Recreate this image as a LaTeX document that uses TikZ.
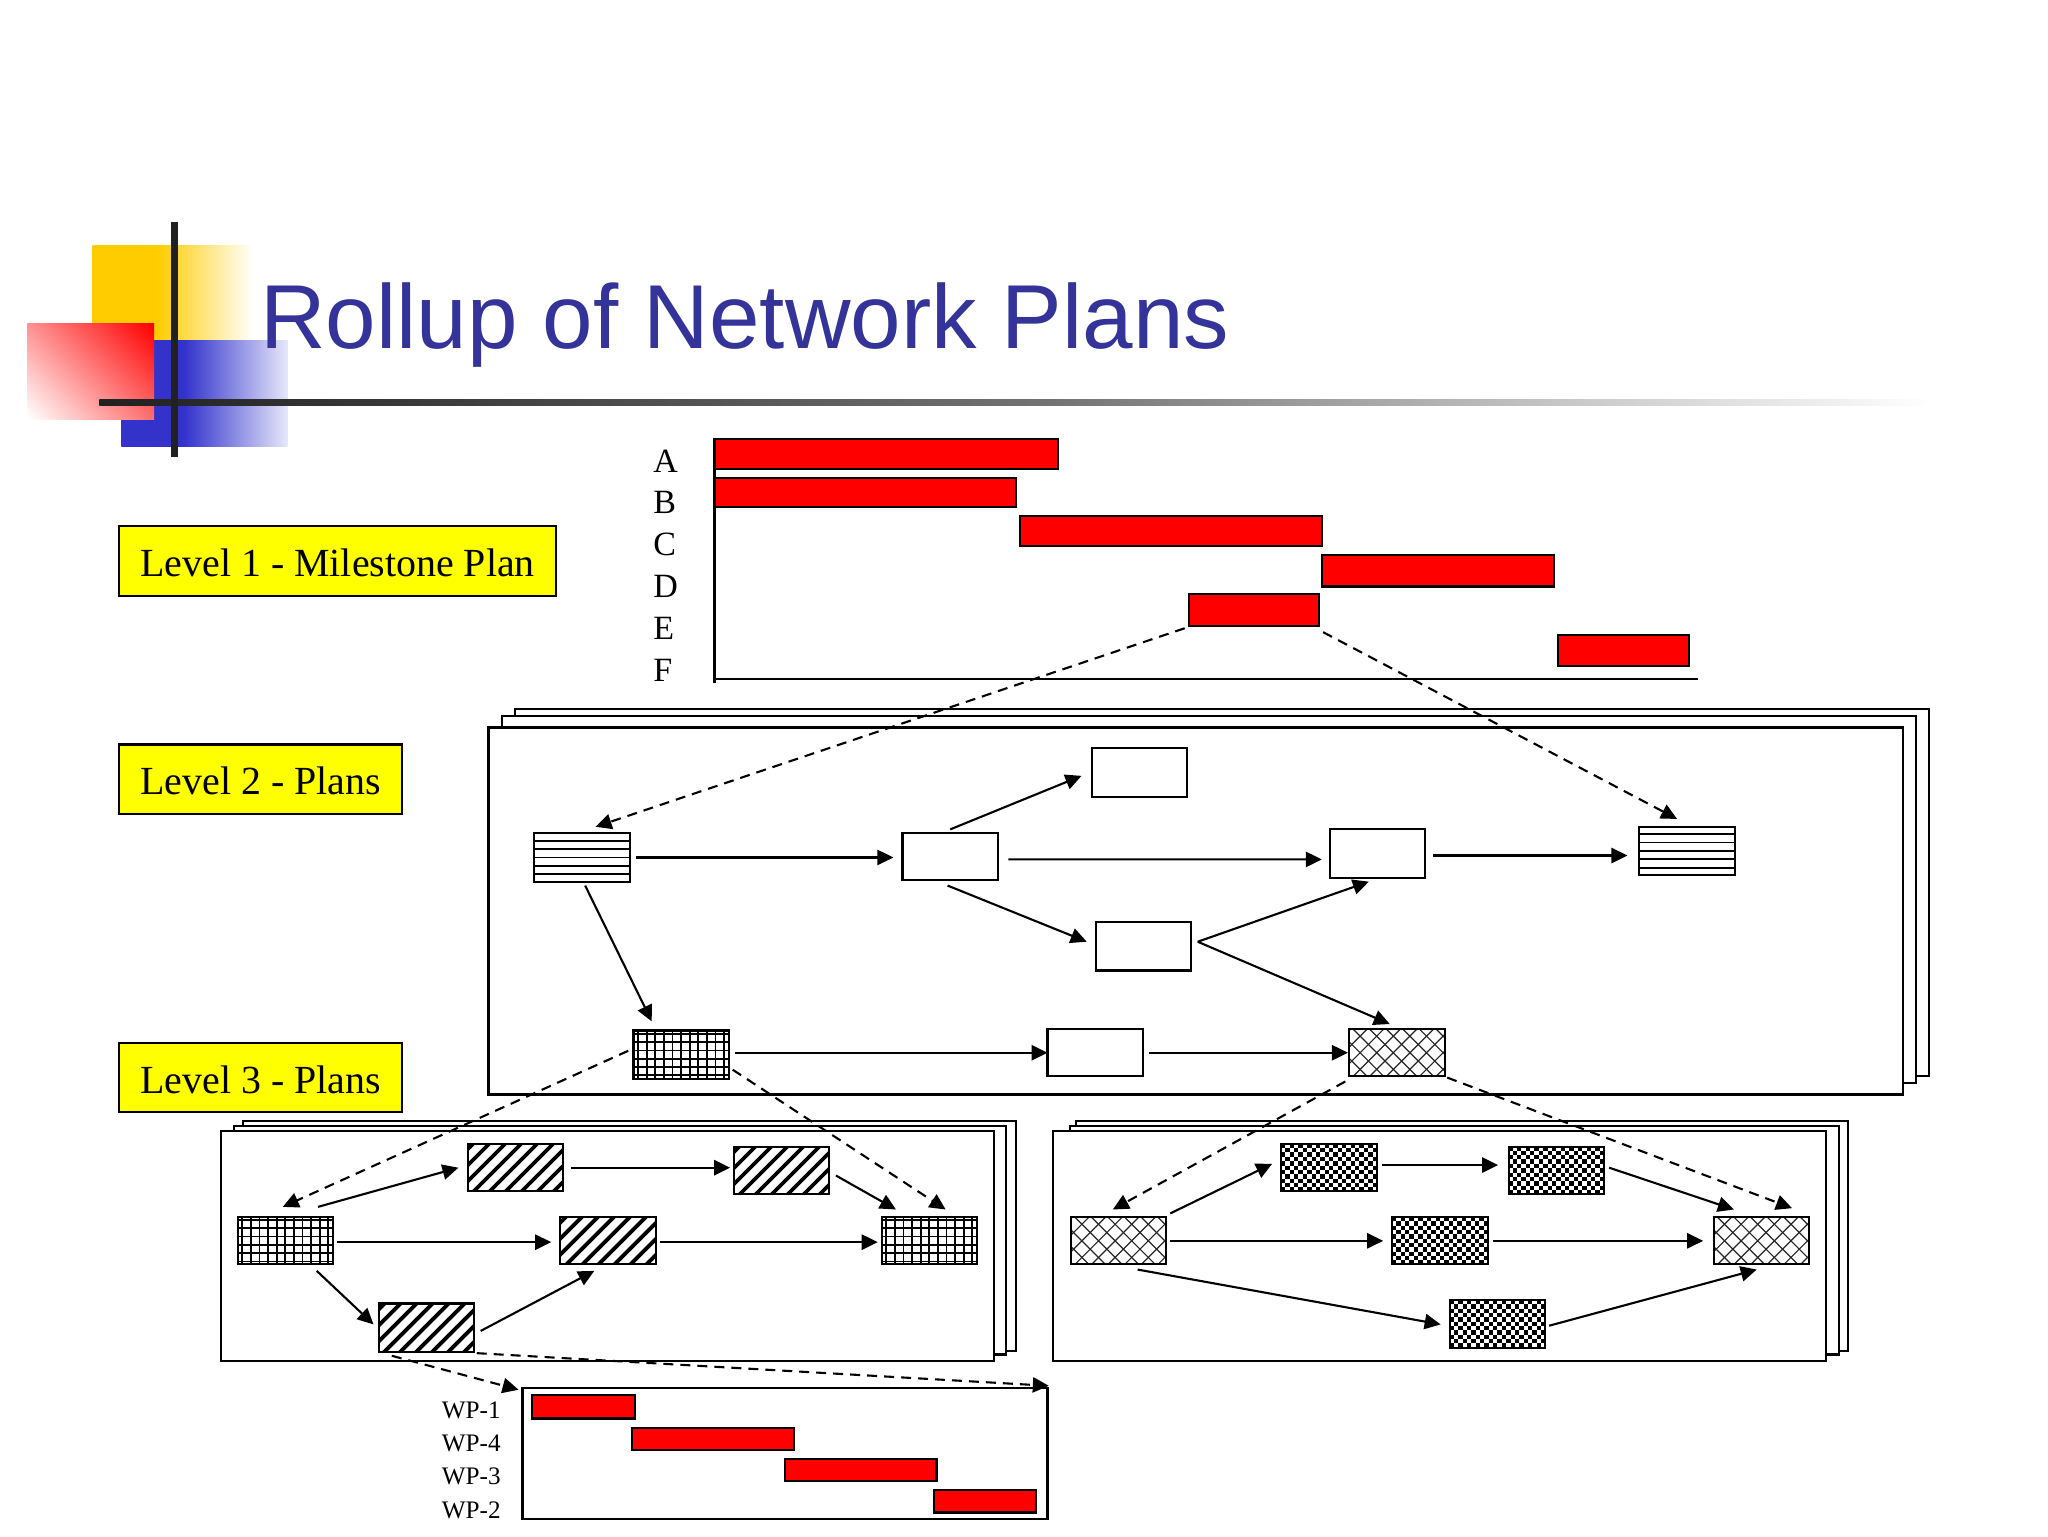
\documentclass[tikz,border=0pt]{standalone}
\usepackage{fontspec}
\setmainfont{Liberation Serif}
\newfontfamily\titlefont{Liberation Sans}
\usetikzlibrary{arrows.meta,calc}
\definecolor{titleblue}{HTML}{333399}
\definecolor{logoblue}{HTML}{3333CC}
\definecolor{logoyellow}{HTML}{FFCC00}
\definecolor{levelyellow}{HTML}{FFFF00}
\definecolor{barred}{HTML}{FF0000}
\definecolor{darkbar}{gray}{0.13}
\definecolor{barA}{gray}{0.22}
\definecolor{barB}{gray}{0.45}
\definecolor{barC}{gray}{0.78}
\pgfdeclarehorizontalshading{yellowfade}{100bp}{color(0bp)=(logoyellow); color(45bp)=(logoyellow); color(75bp)=(white); color(100bp)=(white)}
\pgfdeclarehorizontalshading{bluefade}{100bp}{color(0bp)=(logoblue); color(44bp)=(logoblue); color(75bp)=(logoblue!12!white); color(100bp)=(logoblue!12!white)}
\pgfdeclarehorizontalshading{barfade}{100bp}{color(0bp)=(darkbar); color(25bp)=(darkbar); color(33bp)=(barA); color(51bp)=(barB); color(65bp)=(barC); color(75bp)=(white); color(100bp)=(white)}
\pgfdeclareverticalshading{redfade}{100bp}{color(0bp)=(white); color(15bp)=(white); color(85bp)=(barred); color(100bp)=(barred)}
\tikzset{
  frame/.style={draw=black,line width=1.05pt,inner sep=0pt,outer sep=0pt,fill=white},
  redbar/.style={frame,fill=barred},
  sheet/.style={frame},
  levelbox/.style={draw=black,line width=1.05pt,fill=levelyellow,inner sep=0pt,outer sep=0pt,text height=15.8pt,text depth=0pt,font=\fontsize{19.95pt}{24pt}\selectfont},
  rowlabel/.style={anchor=west,inner sep=0pt,font=\fontsize{17pt}{20pt}\selectfont},
  wplabel/.style={anchor=west,inner sep=0pt,font=\fontsize{12.6pt}{15pt}\selectfont},
  arr/.style={draw=black,line width=1.05pt,-{Triangle[length=8pt,width=7.6pt]}},
  dasharr/.style={arr,dash pattern=on 5pt off 3.5pt},
  blank/.style={frame},
  hlines/.style={frame,path picture={\begin{scope}[shift={(path picture bounding box.center)}]
    \foreach \v in {-8.4,-4.2,0,4.2,8.4}{\draw[line width=.9pt] (-25pt,{\v*1pt}) -- (25pt,{\v*1pt});}
    \end{scope}}},
  gridfill/.style={frame,path picture={\begin{scope}[shift={(path picture bounding box.center)}]
    \foreach \v in {-10.3,-6.15,-2,2.15,6.3,10.45}{\draw[line width=.9pt] (-25pt,{\v*1pt}) -- (25pt,{\v*1pt});}
    \foreach \v in {-21.5,-17.2,-12.9,-8.6,-4.3,0,4.3,8.6,12.9,17.2,21.5}{\draw[line width=.9pt] ({\v*1pt},-13pt) -- ({\v*1pt},13pt);}
    \end{scope}}},
  stripes/.style={frame,path picture={\begin{scope}[shift={(path picture bounding box.center)}]
    \foreach \v in {-46,-38,...,30}{\draw[line width=1.9pt] ({\v*1pt},-13pt) -- ({\v*1pt+26pt},13pt);}
    \end{scope}}},
  lattice/.style={frame,path picture={\begin{scope}[shift={(path picture bounding box.center)}]
    \foreach \v in {-48,-39.7,...,30}{\draw[line width=.6pt,black!85] ({\v*1pt},-13pt) -- ({\v*1pt+26pt},13pt);
      \draw[line width=.6pt,black!85] ({\v*1pt+26pt},-13pt) -- ({\v*1pt},13pt);}
    \end{scope}}},
  checks/.style={frame,path picture={\begin{scope}[shift={(path picture bounding box.center)}]
    \foreach \i in {0,...,22}{\foreach \j in {0,...,11}{
      \pgfmathparse{int(mod(\i+\j,2))}\ifnum\pgfmathresult=0
      \fill[black] ({-24pt+\i*2.18pt},{-12pt+\j*2.18pt}) rectangle ++(2.18pt,2.18pt);\fi}}
    \end{scope}}}
}
% x1 y1 x2 y2 in picture units
\newcommand{\Bx}[6][frame]{%
  \pgfmathsetmacro\bw{(#4-#2)*0.65306}%
  \pgfmathsetmacro\bh{(#5-#3)*0.65306}%
  \node[#1,minimum width=\bw pt,minimum height=\bh pt] (#6) at ({(#2+#4)/2},{(#3+#5)/2}) {};}
\begin{document}
\begin{tikzpicture}[x=0.65306pt,y=-0.65306pt]
\useasboundingbox (0,0) rectangle (1568,1176);
\fill[white] (0,0) rectangle (1568,1176);
% logo
\shade[shading=yellowfade] (71,188) rectangle (194,261);
\shade[shading=bluefade] (93,261) rectangle (220,342);
\shade[shading=redfade,shading angle=-45] (21,248) rectangle (118,321);
\node[anchor=base west,inner sep=0pt,text=titleblue,font=\titlefont\fontsize{45.4pt}{50pt}\selectfont] (title) at (199,267) {Rollup of Network Plans};
\shade[shading=barfade] (76,305.5) rectangle (1480,310.5);
\fill[darkbar] (131,170) rectangle (136,350);
% level boxes
\node[levelbox,minimum width=218.8pt,minimum height=34.6pt] (L1) at (258.5,429.5) {Level 1 - Milestone Plan};
\node[levelbox,minimum width=141.7pt,minimum height=34.6pt] (L2) at (199.5,596.5) {Level 2 - Plans};
\node[levelbox,minimum width=141.7pt,minimum height=34.6pt] (L3) at (199.5,825) {Level 3 - Plans};
% level 1 chart
\foreach \t/\yy in {A/353,B/385,C/417,D/449,E/481,F/513}{\node[rowlabel] (row\t) at (500,\yy) {\t};}
\Bx[redbar]{547}{336}{810}{359}{barA}
\Bx[redbar]{547}{366}{778}{388}{barB}
\Bx[redbar]{781}{395}{1012}{418}{barC}
\Bx[redbar]{1012}{425}{1190}{449}{barD}
\Bx[redbar]{910}{455}{1010}{479}{barE}
\Bx[redbar]{1193}{486}{1293}{510}{barF}
\coordinate (axT) at (547,336);
\coordinate (axO) at (547,523);
\coordinate (axL) at (547,520);
\coordinate (axR) at (1300,520);
\draw[line width=1.05pt] (axT) -- (axO);
\draw[line width=1.05pt] (axL) -- (axR);
% level 2 sheets
\Bx[sheet]{394}{543}{1477}{824}{sheetA}
\Bx[sheet]{384}{548}{1467}{829}{sheetB}
\Bx[sheet]{374}{557}{1457}{838}{sheetC}
\Bx[hlines]{409}{638}{482}{675}{H1}
\Bx[blank]{691}{638}{764}{674}{N1}
\Bx[blank]{836}{573}{909}{610}{N2}
\Bx[blank]{1018}{635}{1091}{672}{N3}
\Bx[hlines]{1255}{633}{1328}{670}{H2}
\Bx[blank]{839}{706}{912}{743}{N4}
\Bx[gridfill]{485}{789}{558}{826}{G}
\Bx[blank]{802}{788}{875}{824}{N5}
\Bx[lattice]{1033}{788}{1106}{824}{D}
% level 3 sheets
\Bx[sheet]{186}{858}{778}{1034}{sheetD}
\Bx[sheet]{179}{862}{770}{1037}{sheetE}
\Bx[sheet]{169}{866}{761}{1042}{sheetF}
\Bx[sheet]{824}{858}{1415}{1034}{sheetG}
\Bx[sheet]{819}{862}{1408}{1037}{sheetH}
\Bx[sheet]{806}{866}{1398}{1042}{sheetI}
\Bx[gridfill]{182}{932}{255}{968}{GL}
\Bx[stripes]{358}{876}{431}{912}{S1}
\Bx[stripes]{562}{878}{635}{914}{S2}
\Bx[stripes]{429}{932}{502}{968}{S3}
\Bx[stripes]{290}{998}{363}{1035}{S4}
\Bx[gridfill]{675}{932}{748}{968}{GR}
\Bx[lattice]{820}{932}{893}{968}{DL}
\Bx[checks]{981}{876}{1054}{912}{C1}
\Bx[checks]{1155}{878}{1228}{914}{C2}
\Bx[checks]{1066}{932}{1139}{968}{C3}
\Bx[checks]{1110}{995}{1183}{1032}{C4}
\Bx[lattice]{1312}{932}{1385}{968}{DR}
% work package chart
\Bx[sheet]{400}{1063}{802}{1163}{WP}
\Bx[redbar]{407}{1068}{486}{1086}{wpA}
\Bx[redbar]{484}{1093}{608}{1110}{wpD}
\Bx[redbar]{601}{1117}{717}{1134}{wpC}
\Bx[redbar]{715}{1141}{793}{1158}{wpB}
\node[wplabel] (lab1) at (338,1080) {WP-1};
\node[wplabel] (lab4) at (338,1105) {WP-4};
\node[wplabel] (lab3) at (338,1130) {WP-3};
\node[wplabel] (lab2) at (338,1156) {WP-2};
% level 2 connectors
\draw[arr] ([shift={(5,0)}]H1.east) -- ([shift={(-7,0)}]N1.west |- H1.east);
\draw[arr] ([shift={(8,2)}]N1.east) -- ([shift={(-6,4.5)}]N3.west);
\draw[arr] ([shift={(6,1.5)}]N3.east) -- ([shift={(-9,3.5)}]H2.west);
\draw[arr] ([shift={(0,-3)}]N1.north) -- ([shift={(-8,2.5)}]N2.west);
\draw[arr] ([shift={(-2,4)}]N1.south) -- ([shift={(-7,-3.5)}]N4.west);
\draw[arr] ([shift={(5,-3.5)}]N4.east) -- ([shift={(-6.5,3)}]N3.south);
\draw[arr] ([shift={(5,-3.5)}]N4.east) -- ([shift={(-5.5,-4)}]D.north);
\draw[arr] ([shift={(2.5,3)}]H1.south) -- ([shift={(-22.5,-7)}]G.north);
\draw[arr] ([shift={(5,-1.5)}]G.east) -- ([shift={(0,0)}]N5.west);
\draw[arr] ([shift={(5,0)}]N5.east) -- ([shift={(-1,0)}]D.west);
% level 3 left connectors
\draw[arr] ([shift={(25,-8)}]GL.north) -- ([shift={(-7,0)}]S1.west);
\draw[arr] ([shift={(3,1)}]GL.east) -- ([shift={(-7,1)}]S3.west);
\draw[arr] ([shift={(24,5)}]GL.south) -- ([shift={(-4,-2.5)}]S4.west);
\draw[arr] ([shift={(6,0)}]S1.east) -- ([shift={(-3,-2)}]S2.west);
\draw[arr] ([shift={(5,4)}]S2.east) -- ([shift={(-25.5,-6)}]GR.north);
\draw[arr] ([shift={(3,1)}]S3.east) -- ([shift={(-3,1)}]GR.west);
\draw[arr] ([shift={(5,2.5)}]S4.east) -- ([shift={(-10.5,5)}]S3.south);
% level 3 right connectors
\draw[arr] ([shift={(3,-3)}]DL.north east) -- ([shift={(-7,-3)}]C1.west);
\draw[arr] ([shift={(4,-2)}]C1.east) -- ([shift={(-8,-4)}]C2.west);
\draw[arr] ([shift={(4,-2)}]C2.east) -- ([shift={(-21,-6)}]DR.north);
\draw[arr] ([shift={(3,0)}]DL.east) -- ([shift={(-7,0)}]C3.west);
\draw[arr] ([shift={(4,0)}]C3.east) -- ([shift={(-8,0)}]DR.west);
\draw[arr] ([shift={(14.5,4)}]DL.south) -- ([shift={(-7,0.5)}]C4.west);
\draw[arr] ([shift={(3,1.5)}]C4.east) -- ([shift={(-3.5,4)}]DR.south);
% dashed rollup connectors
\draw[dasharr] ([shift={(-3,2)}]barE.south west) -- ([shift={(10.5,-5)}]H1.north);
\draw[dasharr] ([shift={(3,5)}]barE.south east) -- ([shift={(-7.5,-6)}]H2.north);
\draw[dasharr] ([shift={(-4,-3)}]G.west) -- ([shift={(-2,-8)}]GL.north);
\draw[dasharr] ([shift={(3,-7)}]G.south east) -- ([shift={(12.5,-6)}]GR.north);
\draw[dasharr] ([shift={(-3,4)}]D.south west) -- ([shift={(-4.5,-6)}]DL.north);
\draw[dasharr] ([shift={(2,1)}]D.south east) -- ([shift={(23.5,-7)}]DR.north);
\draw[dasharr] ([shift={(10,3)}]S4.south west) -- ([shift={(-3,1)}]WP.north west);
\draw[dasharr] ([shift={(2,1)}]S4.south east) -- ([shift={(1,-2)}]WP.north east);
\end{tikzpicture}
\end{document}
